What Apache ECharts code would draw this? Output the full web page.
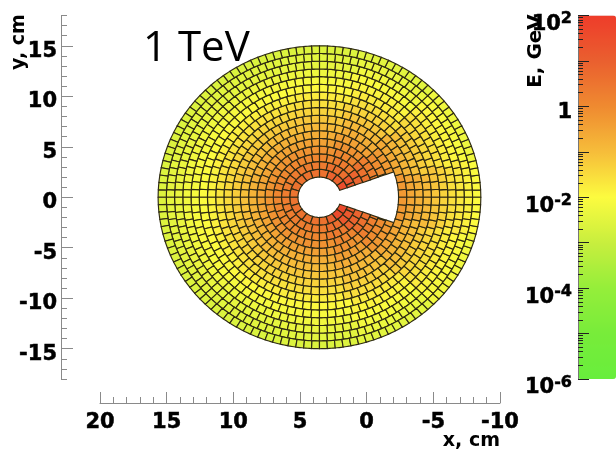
<!DOCTYPE html>
<html><head><meta charset="utf-8">
<style>html,body{margin:0;padding:0;background:#fff}#c{width:616px;height:452px}</style>
<script src="https://cdn.jsdelivr.net/npm/echarts@6/dist/echarts.min.js"></script>
</head><body><div id="c"></div>
<script>
// ---- axis ticks
const xTicks = [20, 15, 10, 5, 0, -5, -10];
const yMajorTicks = [-15, -10, -5, 0, 5, 10, 15];
const yMinorTicks = [-18,-17,-16,-14,-13,-12,-11,-9,-8,-7,-6,-4,-3,-2,-1,1,2,3,4,6,7,8,9,11,12,13,14,16,17,18];
const colorDecades = [-6,-5,-4,-3,-2,-1,0,1,2];
const colorLabelled = [-6,-4,-2,0,2];
const decadeMultiples = [2,3,4,5,6,7,8,9];
// ---- segmentation: pads per ring, innermost to outermost
const padsPerRing = [20,28,36,40,48,52,60,64,72,76,84,88,96,104,112,120,128];
// ---- log10(E/GeV) per ring (inner to outer), by direction on the disk (degrees, counter-clockwise from screen right)
const logE000 = [null,null,null,null,null,null,null,-0.3,-0.55,-0.75,-0.95,-1.15,-1.35,-1.55,-1.7,-1.85,-2.0];
const logE030 = [1.5,1.15,0.85,0.55,0.25,-0.05,-0.3,-0.6,-0.85,-1.05,-1.25,-1.45,-1.6,-1.8,-1.95,-2.1,-2.25];
const logE060 = [0.9,0.6,0.35,0.1,-0.15,-0.45,-0.7,-0.95,-1.15,-1.35,-1.55,-1.75,-1.9,-2.05,-2.2,-2.35,-2.5];
const logE090 = [0.55,0.35,0.1,-0.15,-0.45,-0.7,-0.95,-1.15,-1.35,-1.55,-1.75,-1.95,-2.1,-2.25,-2.4,-2.5,-2.62];
const logE120 = [0.55,0.33,0.08,-0.18,-0.48,-0.75,-1.0,-1.2,-1.4,-1.6,-1.8,-2.0,-2.12,-2.27,-2.42,-2.52,-2.65];
const logE150 = [0.55,0.33,0.08,-0.2,-0.5,-0.78,-1.03,-1.23,-1.43,-1.63,-1.83,-2.0,-2.1,-2.22,-2.37,-2.47,-2.62];
const logE180 = [0.5,0.3,0.1,-0.2,-0.5,-0.8,-1.05,-1.25,-1.45,-1.65,-1.85,-2.0,-2.1,-2.2,-2.35,-2.45,-2.6];
const logE210 = [0.55,0.32,0.1,-0.18,-0.5,-0.78,-1.02,-1.22,-1.42,-1.62,-1.82,-1.98,-2.08,-2.2,-2.35,-2.47,-2.62];
const logE240 = [0.55,0.33,0.08,-0.18,-0.47,-0.74,-0.98,-1.18,-1.38,-1.58,-1.78,-1.97,-2.1,-2.25,-2.4,-2.52,-2.65];
const logE270 = [0.55,0.35,0.1,-0.15,-0.45,-0.7,-0.95,-1.15,-1.35,-1.55,-1.75,-1.95,-2.08,-2.22,-2.37,-2.5,-2.62];
const logE300 = [0.95,0.65,0.38,0.12,-0.15,-0.42,-0.68,-0.92,-1.12,-1.32,-1.52,-1.72,-1.88,-2.03,-2.18,-2.32,-2.48];
const logE330 = [1.6,1.2,0.9,0.6,0.28,-0.02,-0.28,-0.55,-0.82,-1.02,-1.22,-1.42,-1.58,-1.78,-1.92,-2.08,-2.22];
const logEByDirection = [logE000,logE030,logE060,logE090,logE120,logE150,logE180,logE210,logE240,logE270,logE300,logE330];
// ---- palette from the colour scale, bottom to top
const paletteStops = ['#68ee3c','#78ec3a','#95ee3a','#c8ee3e','#fcfb3f','#f6bd3a','#ef8a30','#ea5f2f','#ee3c2a'];

// disk geometry in axis units
const centreX = 3.54, rIn = 2.0, rOut = 15.0, xSquash = 12.1/15, notchHalf = 20*Math.PI/180, notchRings = 7;
const ringStep = (rOut-rIn)/padsPerRing.length;
const TAU = Math.PI*2;

const cells = [];
padsPerRing.forEach((n,k)=>{
  for(let s=0;s<n;s++){
    const mid=(s+0.5)/n*360;
    const row=logEByDirection[Math.round(mid/30)%12];
    const v=row[k];
    if(k<notchRings){
      const a0=s/n*TAU, a1=(s+1)/n*TAU;
      if(a1<=notchHalf+0.0001) continue;
      if(a0>=TAU-notchHalf-0.0001) continue;
    }
    cells.push([k,s,v===null?logE030[k]:v]);
  }
});

function renderCell(params,api){
  const k=api.value(0), s=api.value(1), n=padsPerRing[k];
  let a0=s/n*TAU, a1=(s+1)/n*TAU;
  if(k<notchRings){
    if(a0<notchHalf) a0=notchHalf;
    if(a1>TAU-notchHalf) a1=TAU-notchHalf;
  }
  const r0=rIn+k*ringStep, r1=r0+ringStep, pts=[], steps=4;
  const P=(r,a)=>api.coord([centreX-xSquash*r*Math.cos(a), r*Math.sin(a)]);
  for(let i=0;i<=steps;i++) pts.push(P(r0,a0+(a1-a0)*i/steps));
  for(let i=steps;i>=0;i--) pts.push(P(r1,a0+(a1-a0)*i/steps));
  return {type:'polygon',shape:{points:pts},style:{fill:api.visual('color'),stroke:'#2e2a12',lineWidth:1.15}};
}

const F='"DejaVu Sans"';
const TOP=15.5, H=363.5;
const grey='#8a8a8a';
const minorColor=[];
colorDecades.slice(0,-1).forEach(d=>decadeMultiples.forEach(m=>minorColor.push(d+Math.log10(m))));
const heavy={textBorderColor:'#000',textBorderWidth:0.5};

const chart=echarts.init(document.getElementById('c'),null,{renderer:'canvas'});
chart.setOption({
  animation:false,
  backgroundColor:'#fff',
  grid:[
    {left:100,right:116,top:TOP,height:H},
    {left:578,right:0,top:TOP,height:H}
  ],
  xAxis:[
    {gridIndex:0,type:'value',inverse:true,min:-10,max:20,interval:5,position:'bottom',offset:24,
      axisLine:{show:true,onZero:false,lineStyle:{color:grey,width:1}},
      axisTick:{show:true,inside:true,length:11,lineStyle:{color:grey,width:1}},
      minorTick:{show:true,splitNumber:5,length:6,lineStyle:{color:grey,width:1}},
      splitLine:{show:false},minorSplitLine:{show:false},
      axisLabel:{color:'#000',fontFamily:F,fontWeight:'bold',fontSize:21,margin:9,hideOverlap:false,showMinLabel:true,showMaxLabel:true,
        customValues:xTicks,...heavy}},
    {gridIndex:1,type:'value',min:0,max:1,show:false}
  ],
  yAxis:[
    {gridIndex:0,type:'value',min:-18,max:18,position:'left',offset:39,
      axisLine:{show:true,onZero:false,lineStyle:{color:grey,width:1}},
      axisTick:{show:true,inside:true,length:12,lineStyle:{color:grey,width:1},customValues:yMajorTicks},
      splitLine:{show:false},
      axisLabel:{color:'#000',fontFamily:F,fontWeight:'bold',fontSize:21,margin:4,verticalAlign:'top',lineHeight:11,customValues:yMajorTicks,...heavy}},
    {gridIndex:0,type:'value',min:-18,max:18,position:'left',offset:39,
      axisLine:{show:false,onZero:false},
      axisTick:{show:true,inside:true,length:6,lineStyle:{color:grey,width:1},customValues:yMinorTicks},
      splitLine:{show:false},axisLabel:{show:false}},
    {gridIndex:1,type:'value',min:-6,max:2,position:'left',z:10,
      axisLine:{show:true,onZero:false,lineStyle:{color:'#777',width:1}},
      axisTick:{show:true,inside:true,length:11,lineStyle:{color:'#222',width:1},customValues:colorDecades},
      splitLine:{show:false},
      axisLabel:{customValues:colorLabelled,margin:6,padding:[15,0,0,0],
        formatter:v=>v===0?'{one|1}':'{b|10}{s|'+v+'}',
        rich:{
          one:{fontFamily:F,fontWeight:'bold',fontSize:21,color:'#000',padding:[0,0,3,0],...heavy},
          b:{fontFamily:F,fontWeight:'bold',fontSize:21,color:'#000',verticalAlign:'bottom',lineHeight:24,...heavy},
          s:{fontFamily:F,fontWeight:'bold',fontSize:16,color:'#000',verticalAlign:'top',lineHeight:24,padding:[0,0,8,0],...heavy}
        }}},
    {gridIndex:1,type:'value',min:-6,max:2,position:'left',z:10,
      axisLine:{show:false,onZero:false},
      axisTick:{show:true,inside:true,length:5,lineStyle:{color:'#222',width:1},customValues:minorColor},
      splitLine:{show:false},axisLabel:{show:false}}
  ],
  visualMap:{type:'continuous',min:-6,max:2,dimension:2,seriesIndex:0,show:true,left:578,top:TOP,padding:0,
    itemWidth:38,itemHeight:H,calculable:false,text:null,showLabel:false,inRange:{color:paletteStops}},
  series:[{type:'custom',xAxisIndex:0,yAxisIndex:0,coordinateSystem:'cartesian2d',renderItem:renderCell,
    encode:{x:0,y:1},data:cells,clip:false,silent:true}],
  graphic:[
    {type:'text',left:143,top:28,z:20,style:{text:'1 TeV',fontFamily:'Open Sans',fontSize:42,fill:'#000'}},
    {type:'text',x:19,y:42,rotation:Math.PI/2,z:20,style:{text:'y, cm',fontFamily:F,fontWeight:'bold',fontSize:19,fill:'#000',align:'center',verticalAlign:'middle'}},
    {type:'text',x:536,y:51,rotation:Math.PI/2,z:20,style:{text:'E, GeV',fontFamily:F,fontWeight:'bold',fontSize:20,fill:'#000',align:'center',verticalAlign:'middle'}},
    {type:'text',x:500,y:441,z:20,style:{text:'x, cm',fontFamily:F,fontWeight:'bold',fontSize:19,fill:'#000',align:'right',verticalAlign:'middle'}}
  ]
});
</script></body></html>
